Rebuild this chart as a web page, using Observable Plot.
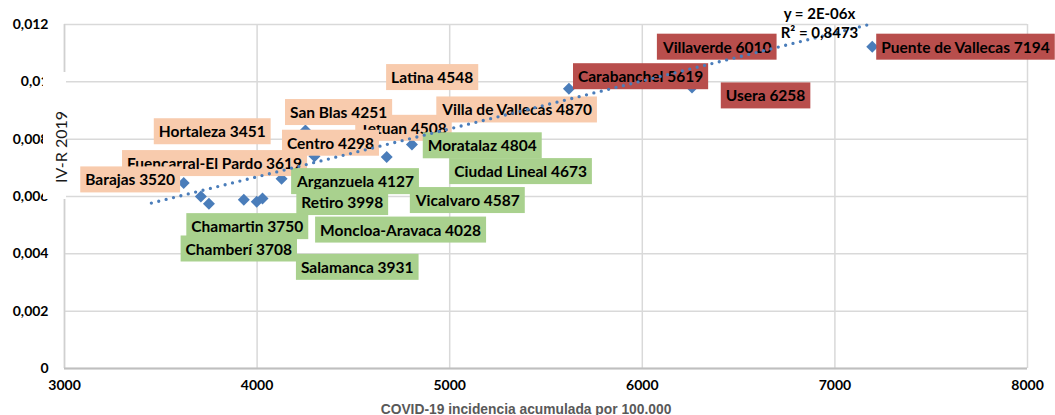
<!DOCTYPE html>
<html><head><meta charset="utf-8">
<script src="https://cdn.jsdelivr.net/npm/d3@7"></script>
<script src="https://cdn.jsdelivr.net/npm/@observablehq/plot@0.6"></script>
<style>
html,body{margin:0;padding:0;background:#fff;}
#chart{width:1055px;height:415px;overflow:hidden;}
</style></head><body><div id="chart"></div>
<script>
// ---- data (order = drawing order of labels) ----
const districts = ["Fuencarral-El Pardo","Hortaleza","Barajas","Tetuan","Latina","San Blas","Centro","Villa de Vallecas",
  "Moratalaz","Ciudad Lineal","Arganzuela","Retiro","Vicalvaro","Moncloa-Aravaca","Salamanca","Chamartin","Chamberí",
  "Carabanchel","Villaverde","Usera","Puente de Vallecas"];
const incidence = [3619,3451,3520,4508,4548,4251,4298,4870, 4804,4673,4127,3998,4587,4028,3931,3750,3708, 5619,6010,6258,7194];
const ivr = [0.00647,0.0066,0.0064,0.0078,0.0087,0.0083,0.0074,0.0082, 0.00781,0.00738,0.00662,0.00582,0.0064,0.00593,0.00589,0.00575,0.00600, 0.00976,0.0101,0.0098,0.01122];
const group = ["medio","medio","medio","medio","medio","medio","medio","medio",
  "bajo","bajo","bajo","bajo","bajo","bajo","bajo","bajo","bajo",
  "alto","alto","alto","alto"];
// label anchor points (data units)
const labelX = [3779,3767,3341,4760,4909,4423,4381,5350, 5169,5368,4511,4442,5094,4745,4520,3949,3905, 5991,6389,6640,7678];
const labelY = [0.00713,0.00824,0.00656,0.00836,0.01013,0.00891,0.00784,0.00900, 0.00775,0.00685,0.00650,0.00577,0.00584,0.00481,0.00351,0.00493,0.00415, 0.01016,0.01119,0.00949,0.01119];

const xTicks = [3000,4000,5000,6000,7000,8000];
const xTickLabels = ["3000","4000","5000","6000","7000","8000"];
const yTicks = [0,0.002,0.004,0.006,0.008,0.010,0.012];
const yTickLabels = ["0","0,002","0,004","0,006","0,008","0,01","0,012"];

const trendSlope = 1.672e-6;
const trendText = ["y = 2E-06x","R² = 0,8473"];
const trendTextX = [6920,6920];
const trendTextY = [0.01235,0.01169];

const xTitle = "COVID-19 incidencia acumulada por 100.000";
const yTitle = "IV-R 2019";

const groupColor = {medio:"#F8CBAD", bajo:"#A9D18E", alto:"#B84E4C"};
const blue = "#4A7DBA";

const points = districts.map((d,i)=>({name:d, x:incidence[i], y:ivr[i], lx:labelX[i], ly:labelY[i], g:group[i], label:`${d} ${incidence[i]}`}));
const [xmin,xmax] = d3.extent(incidence);
const trend = [xmin,xmax].map(x=>({x, y: trendSlope*x}));
const eq = trendText.map((t,i)=>({t, x:trendTextX[i], y:trendTextY[i]}));

const plot = Plot.plot({
  width:1055, height:415,
  marginLeft:64, marginRight:28, marginTop:24, marginBottom:47,
  style:{fontFamily:"Lato, 'Liberation Sans', sans-serif", background:"#fff", overflow:"visible"},
  x:{domain:[3000,8000]},
  y:{domain:[0,0.012]},
  marks:[
    Plot.gridX(xTicks,{stroke:"#D9D9D9", strokeOpacity:1, strokeWidth:1.5}),
    Plot.gridY(yTicks,{stroke:"#D9D9D9", strokeOpacity:1, strokeWidth:1.5}),
    Plot.ruleX([3000],{stroke:"#D0D0D0", strokeWidth:1.5}),
    Plot.ruleY([0],{stroke:"#BFBFBF", strokeWidth:2.2}),
    Plot.axisX({ticks:xTicks, tickFormat:d=>xTickLabels[xTicks.indexOf(d)], tickSize:0, tickPadding:12, fontSize:14, fontWeight:"bold", fill:"#000", label:null}),
    Plot.axisY({ticks:yTicks, tickFormat:d=>yTickLabels[yTicks.indexOf(d)], tickSize:0, tickPadding:16, fontSize:14, fontWeight:"bold", fill:"#000", label:null}),
    Plot.dot(points,{x:"x", y:"y", symbol:"diamond2", r:5.4, fill:blue, stroke:"none"}),
    Plot.text(points,{x:"lx", y:"ly", text:"label", fontSize:15.5, fontWeight:"bold", fill:"#000", fontFamily:"Lato"}),
    Plot.line(trend,{x:"x", y:"y", stroke:blue, strokeWidth:3.3, strokeDasharray:"0 7.6", strokeLinecap:"round"}),
    Plot.text(eq,{x:"x", y:"y", text:"t", fontSize:15, fontWeight:"bold", fill:"#000", fontFamily:"Lato"})
  ]
});
document.getElementById("chart").appendChild(plot);

// label boxes
const labelIndex = new Map(points.map((p,i)=>[p.label,i]));
const svg = d3.select(plot);
svg.selectAll("text").nodes().forEach(node=>{
  const idx = labelIndex.get(node.textContent);
  if (idx === undefined) return;
  const bb = node.getBBox();
  const cy = bb.y + bb.height/2;
  const rect = document.createElementNS("http://www.w3.org/2000/svg","rect");
  rect.setAttribute("x", bb.x-5); rect.setAttribute("y", cy-13);
  rect.setAttribute("width", bb.width+10); rect.setAttribute("height", 26);
  rect.setAttribute("fill", groupColor[group[idx]]); rect.setAttribute("stroke","none");
  const tf = node.getAttribute("transform");
  if (tf) rect.setAttribute("transform", tf);
  node.parentNode.insertBefore(rect, node);
});

// y title with white backing
svg.append("rect").attr("x",43).attr("y",72).attr("width",23).attr("height",127).attr("fill","#fff");
svg.append("text").attr("transform","translate(60,147) rotate(-90)")
  .attr("text-anchor","middle").attr("dominant-baseline","central")
  .attr("font-family","Lato").attr("font-size",16).attr("fill","#1a1a1a").text(yTitle);
// x title
svg.append("text").attr("x",526).attr("y",413.5).attr("text-anchor","middle")
  .attr("font-family","'Liberation Sans', Arial, sans-serif").attr("font-weight","bold")
  .attr("font-size",13.8).attr("fill","#595959").text(xTitle);
</script>
</body></html>
